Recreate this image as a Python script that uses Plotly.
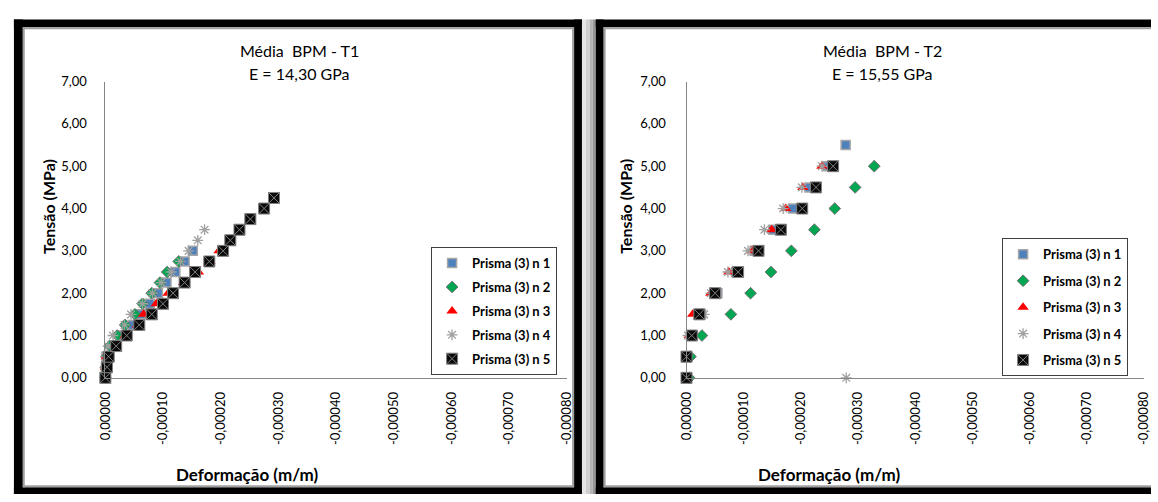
import plotly.graph_objects as go

W, H = 1158, 502

# ---------------- Média BPM - T1 ----------------
t1_y_s1 = [0.00, 0.25, 0.50, 0.75, 1.00, 1.25, 1.50, 1.75, 2.00, 2.25, 2.50, 2.75, 3.00]
t1_x_s1 = [0, -0.0000010, -0.0000020, -0.0000132, -0.0000274, -0.0000474, -0.0000615,
           -0.0000769, -0.0000912, -0.0001060, -0.0001214, -0.0001374, -0.0001516]

t1_y_s2 = [0.00, 0.25, 0.50, 0.75, 1.00, 1.25, 1.50, 1.75, 2.00, 2.25, 2.50, 2.75]
t1_x_s2 = [0, -0.0000005, -0.0000017, -0.0000075, -0.0000205, -0.0000342, -0.0000513,
           -0.0000644, -0.0000803, -0.0000947, -0.0001072, -0.0001272]

t1_y_s3 = [0.00, 0.25, 0.50, 0.75, 1.00, 1.25, 1.50, 1.75, 2.00, 2.25, 2.50, 2.75, 3.00]
t1_x_s3 = [0, -0.0000005, -0.0000017, -0.0000160, -0.0000342, -0.0000559, -0.0000662,
           -0.0000884, -0.0001089, -0.0001357, -0.0001613, -0.0001812, -0.0001972]

t1_y_s4 = [0.00, 0.25, 0.50, 0.75, 1.00, 1.25, 1.50, 1.75, 2.00, 2.25, 2.50, 2.75, 3.00, 3.25, 3.50]
t1_x_s4 = [0, 0, -0.0000008, -0.0000046, -0.0000132, -0.0000331, -0.0000445, -0.0000644,
           -0.0000815, -0.0000969, -0.0001140, -0.0001300, -0.0001443, -0.0001602, -0.0001720]

t1_y_s5 = [0.00, 0.25, 0.50, 0.75, 1.00, 1.25, 1.50, 1.75, 2.00, 2.25, 2.50, 2.75, 3.00,
           3.25, 3.50, 3.75, 4.00, 4.25]
t1_x_s5 = [0, -0.0000029, -0.0000058, -0.0000188, -0.0000371, -0.0000588, -0.0000804,
           -0.0000999, -0.0001174, -0.0001374, -0.0001556, -0.0001802, -0.0002041,
           -0.0002166, -0.0002325, -0.0002513, -0.0002752, -0.0002923]

# ---------------- Média BPM - T2 ----------------
t2_y_s1 = [0.0, 0.5, 1.0, 1.5, 2.0, 2.5, 3.0, 3.5, 4.0, 4.5, 5.0, 5.5]
t2_x_s1 = [0, 0, -0.0000109, -0.0000253, -0.0000540, -0.0000868, -0.0001190, -0.0001517,
           -0.0001862, -0.0002150, -0.0002466, -0.0002782]

t2_y_s2 = [0.0, 0.5, 1.0, 1.5, 2.0, 2.5, 3.0, 3.5, 4.0, 4.5, 5.0]
t2_x_s2 = [-0.0000046, -0.0000069, -0.0000270, -0.0000776, -0.0001120, -0.0001477,
           -0.0001833, -0.0002236, -0.0002592, -0.0002948, -0.0003282]

t2_y_s3 = [0.0, 0.5, 1.0, 1.5, 2.0, 2.5, 3.0, 3.5, 4.0, 4.5, 5.0]
t2_x_s3 = [0, 0, -0.0000050, -0.0000109, -0.0000425, -0.0000741, -0.0001144, -0.0001489,
           -0.0001736, -0.0002034, -0.0002368]

t2_y_s4 = [0.0, 0.5, 1.0, 1.5, 2.0, 2.5, 3.0, 3.5, 4.0, 4.5, 5.0]
t2_x_s4 = [-0.0002793, 0, -0.0000024, -0.0000310, -0.0000425, -0.0000724, -0.0001075,
           -0.0001362, -0.0001690, -0.0002017, -0.0002368]

t2_y_s5 = [0.0, 0.5, 1.0, 1.5, 2.0, 2.5, 3.0, 3.5, 4.0, 4.5, 5.0]
t2_x_s5 = [0, 0, -0.0000092, -0.0000224, -0.0000500, -0.0000902, -0.0001259, -0.0001650,
           -0.0002023, -0.0002264, -0.0002563]

series_names = ["Prisma (3) n 1", "Prisma (3) n 2", "Prisma (3) n 3",
                "Prisma (3) n 4", "Prisma (3) n 5"]

x_tickvals = [0, -0.0001, -0.0002, -0.0003, -0.0004, -0.0005, -0.0006, -0.0007, -0.0008]
x_ticktext = ["0,00000", "-0,00010", "-0,00020", "-0,00030", "-0,00040",
              "-0,00050", "-0,00060", "-0,00070", "-0,00080"]
y_tickvals = [0, 1, 2, 3, 4, 5, 6, 7]
y_ticktext = ["0,00", "1,00", "2,00", "3,00", "4,00", "5,00", "6,00", "7,00"]

titles = [("Média  BPM - T1", "E = 14,30 GPa"), ("Média  BPM - T2", "E = 15,55 GPa")]
y_title = "Tensão (MPa)"
x_title = "Deformação (m/m)"

FONT = "Lato"

# marker style per series
styles = [
    dict(symbol="square", size=9, color="#4F81BD", line=dict(color="#A6A6A6", width=1.5)),
    dict(symbol="diamond", size=9, color="#00A651", line=dict(color="#6F6F6F", width=1)),
    dict(symbol="triangle-up", size=10, color="#FF0000", line=dict(width=0)),
    dict(symbol="asterisk-open", size=9, color="#A0A0A0", line=dict(color="#A0A0A0", width=1.3)),
    dict(symbol="square-x", size=11, color="#0A0A0A", line=dict(color="#808080", width=1)),
]

panels = [
    dict(xs=[t1_x_s1, t1_x_s2, t1_x_s3, t1_x_s4, t1_x_s5],
         ys=[t1_y_s1, t1_y_s2, t1_y_s3, t1_y_s4, t1_y_s5],
         xa="x", ya="y", legend="legend", tag="a"),
    dict(xs=[t2_x_s1, t2_x_s2, t2_x_s3, t2_x_s4, t2_x_s5],
         ys=[t2_y_s1, t2_y_s2, t2_y_s3, t2_y_s4, t2_y_s5],
         xa="x2", ya="y2", legend="legend2", tag="b"),
]

fig = go.Figure()
for p in panels:
    for i, name in enumerate(series_names):
        fig.add_trace(go.Scatter(
            x=p["xs"][i], y=p["ys"][i], mode="markers", name=name,
            marker=styles[i], xaxis=p["xa"], yaxis=p["ya"],
            legend=p["legend"], legendgroup=p["tag"] + str(i),
            cliponaxis=False, showlegend=True,
        ))


def px(x):
    return x / W


def py(y):
    return 1 - y / H


# plot-area pixel geometry
L_X0, L_X1 = 97.7, 565.7
R_X0, R_X1 = 687.0, 1151.0
Y_BOT, Y_TOP = 382.0, 76.0

axis_common = dict(showline=True, linecolor="#868686", linewidth=1, showgrid=False,
                   zeroline=False, ticks="", tickfont=dict(family=FONT, size=13, color="#000"))

fig.update_layout(
    xaxis=dict(domain=[px(L_X0), px(L_X1)], range=[0, -0.0008], anchor="y",
               tickmode="array", tickvals=x_tickvals, ticktext=x_ticktext,
               tickangle=-90, ticklabelstandoff=8, **axis_common),
    yaxis=dict(domain=[py(Y_BOT), py(Y_TOP)], range=[0, 7], anchor="x",
               tickmode="array", tickvals=y_tickvals, ticktext=y_ticktext,
               ticklabelstandoff=15, **axis_common),
    xaxis2=dict(domain=[px(R_X0), px(R_X1)], range=[0, -0.0008], anchor="y2",
                tickmode="array", tickvals=x_tickvals, ticktext=x_ticktext,
                tickangle=-90, ticklabelstandoff=8, **axis_common),
    yaxis2=dict(domain=[py(Y_BOT), py(Y_TOP)], range=[0, 7], anchor="x2",
                tickmode="array", tickvals=y_tickvals, ticktext=y_ticktext,
                ticklabelstandoff=17, **axis_common),
)

legend_common = dict(xanchor="left", yanchor="top", bgcolor="white",
                     bordercolor="#404040", borderwidth=1,
                     font=dict(family=FONT, size=13, color="#000", weight="bold"),
                     itemclick=False, itemdoubleclick=False)
fig.update_layout(
    legend=dict(x=px(428), y=py(247), tracegroupgap=4, **legend_common),
    legend2=dict(x=px(1007), y=py(238), tracegroupgap=6.5, **legend_common),
)

# chart frames: thick black border, thin grey inner edge, shadow strip between panels
shapes = []


def rect(x0, y0, x1, y1, fill):
    shapes.append(dict(type="rect", xref="paper", yref="paper",
                       x0=px(x0), x1=px(x1), y0=py(y1), y1=py(y0),
                       fillcolor=fill, line=dict(color=fill, width=0),
                       layer="above"))


# left frame
rect(5, 12, 581, 20, "black")
rect(5, 12, 14, 502, "black")
rect(573, 12, 581, 502, "black")
rect(5, 495, 581, 502, "black")
rect(14, 20, 573, 22, "#A0A0A0")
rect(14, 20, 16, 495, "#A0A0A0")
rect(571, 20, 573, 495, "#A0A0A0")
rect(14, 493, 573, 495, "#A0A0A0")
# shadow strip
rect(581, 12, 585, 502, "#E6E6E6")
rect(585, 12, 589, 502, "#CFCFCF")
rect(589, 12, 592, 502, "#B4B4B4")
rect(592, 12, 595, 502, "#969696")
# right frame
rect(595, 12, 1158, 20, "black")
rect(595, 12, 603, 502, "black")
rect(595, 495, 1158, 502, "black")
rect(603, 20, 1158, 22, "#A0A0A0")
rect(603, 20, 605, 495, "#A0A0A0")
rect(603, 493, 1158, 495, "#A0A0A0")

annotations = []
centers = [(295, 40, 242), (886, 625, 832)]
for (line1, line2), (cx, ytx, xtx) in zip(titles, centers):
    annotations.append(dict(text=line1, x=px(cx), y=py(44), xref="paper", yref="paper",
                            showarrow=False, xanchor="center", yanchor="middle",
                            font=dict(family=FONT, size=16, color="#000")))
    annotations.append(dict(text=line2, x=px(cx), y=py(68), xref="paper", yref="paper",
                            showarrow=False, xanchor="center", yanchor="middle",
                            font=dict(family=FONT, size=16, color="#000")))
    annotations.append(dict(text=y_title, x=px(ytx), y=py(205), xref="paper", yref="paper",
                            showarrow=False, xanchor="center", yanchor="middle", textangle=-90,
                            font=dict(family=FONT, size=16, color="#000", weight="bold")))
    annotations.append(dict(text=x_title, x=px(xtx), y=py(482), xref="paper", yref="paper",
                            showarrow=False, xanchor="center", yanchor="middle",
                            font=dict(family=FONT, size=17, color="#000", weight="bold")))

fig.update_layout(
    width=W, height=H, autosize=False,
    margin=dict(l=0, r=0, t=0, b=0, pad=0),
    paper_bgcolor="white", plot_bgcolor="white",
    font=dict(family=FONT, color="#000"),
    shapes=shapes, annotations=annotations,
)

fig.write_html("out.html")
